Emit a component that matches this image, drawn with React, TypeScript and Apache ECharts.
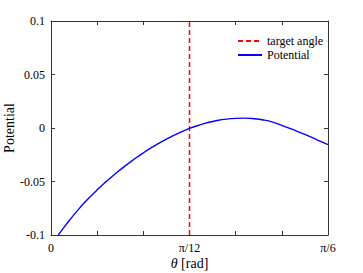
import React, { useEffect, useRef } from "react";
import * as echarts from "echarts";

// angle in degrees (axis shown in radians: 15° = π/12, 30° = π/6)
const thetaDeg = [0.79, 1, 2, 3, 4, 5, 6, 7, 8, 9, 10, 11, 12, 13, 14, 15, 16, 17, 18, 19, 20, 21, 22, 23, 24, 25, 26, 27, 28, 29, 30];
const potential = [
  -0.1, -0.0975, -0.0862, -0.0758, -0.0664, -0.0578, -0.0499, -0.0425, -0.0356, -0.0292, -0.0232,
  -0.0177, -0.0127, -0.0082, -0.0041, -0.0004, 0.0026, 0.0051, 0.007, 0.0083, 0.009, 0.0092,
  0.0087, 0.0075, 0.0055, 0.0025, -0.0008, -0.0043, -0.0079, -0.0117, -0.0156,
];
const targetAngle = 15;
const yRange = [-0.1, 0.1];
const xTickLabels: Record<number, string> = { 0: "0", 15: "π/12", 30: "π/6" };

const FONT = "'Liberation Serif', 'Times New Roman', 'DejaVu Serif', serif";
const AXIS_COLOR = "#333333";

export default function App() {
  const ref = useRef<HTMLDivElement>(null);
  useEffect(() => {
    if (!ref.current) return;
    const chart = echarts.init(ref.current, null, { renderer: "svg" });
    const axisCommon = {
      axisLine: { show: true, onZero: false, lineStyle: { color: AXIS_COLOR, width: 1 } },
      axisTick: { show: true, inside: true, length: 4, lineStyle: { color: AXIS_COLOR } },
      splitLine: { show: false },
    };
    chart.setOption({
      animation: false,
      backgroundColor: "#ffffff",
      textStyle: { fontFamily: FONT },
      grid: { left: 51, right: 35, top: 21, bottom: 38, containLabel: false, outerBoundsMode: "none" },
      legend: {
        orient: "vertical",
        left: 232,
        top: 30,
        itemWidth: 24,
        itemHeight: 10,
        itemGap: 2,
        itemStyle: { opacity: 0 },
        textStyle: { fontFamily: FONT, fontSize: 12, color: "#000" },
        data: ["target angle", "Potential"],
      },
      xAxis: [
        {
          type: "value",
          min: 0,
          max: 30,
          interval: 5,
          position: "bottom",
          ...axisCommon,
          axisLabel: {
            fontFamily: FONT,
            fontSize: 12,
            color: "#000",
            margin: 7,
            formatter: (v: number) => xTickLabels[v] ?? "",
          },
          name: "{i|θ} [rad]",
          nameLocation: "middle",
          nameGap: 21,
          nameMoveOverlap: false,
          nameTextStyle: {
            fontFamily: FONT,
            fontSize: 14,
            color: "#000",
            rich: { i: { fontFamily: FONT, fontSize: 14, fontStyle: "italic", color: "#000" } },
          },
        },
        {
          type: "value",
          min: 0,
          max: 30,
          interval: 5,
          position: "top",
          ...axisCommon,
          axisLabel: { show: false },
        },
      ],
      yAxis: [
        {
          type: "value",
          min: yRange[0],
          max: yRange[1],
          interval: 0.05,
          position: "left",
          ...axisCommon,
          axisLabel: { fontFamily: FONT, fontSize: 12, color: "#000", margin: 6 },
          name: "Potential",
          nameLocation: "middle",
          nameGap: 35,
          nameMoveOverlap: false,
          nameRotate: 90,
          nameTextStyle: { fontFamily: FONT, fontSize: 14, color: "#000" },
        },
        {
          type: "value",
          min: yRange[0],
          max: yRange[1],
          interval: 0.05,
          position: "right",
          ...axisCommon,
          axisLabel: { show: false },
        },
      ],
      series: [
        {
          name: "target angle",
          type: "line",
          xAxisIndex: 0,
          yAxisIndex: 0,
          symbol: "none",
          data: [
            [targetAngle, yRange[0]],
            [targetAngle, yRange[1]],
          ],
          lineStyle: { color: "#ff0000", width: 1.5, type: [5, 3] },
          itemStyle: { color: "#ff0000" },
        },
        {
          name: "Potential",
          type: "line",
          xAxisIndex: 0,
          yAxisIndex: 0,
          symbol: "none",
          smooth: true,
          data: thetaDeg.map((t, i) => [t, potential[i]]),
          lineStyle: { color: "#0000ff", width: 1.4 },
          itemStyle: { color: "#0000ff" },
        },
      ],
    });
    return () => chart.dispose();
  }, []);
  return <div ref={ref} style={{ width: 363, height: 273, position: "absolute", left: 0, top: 0 }} />;
}
